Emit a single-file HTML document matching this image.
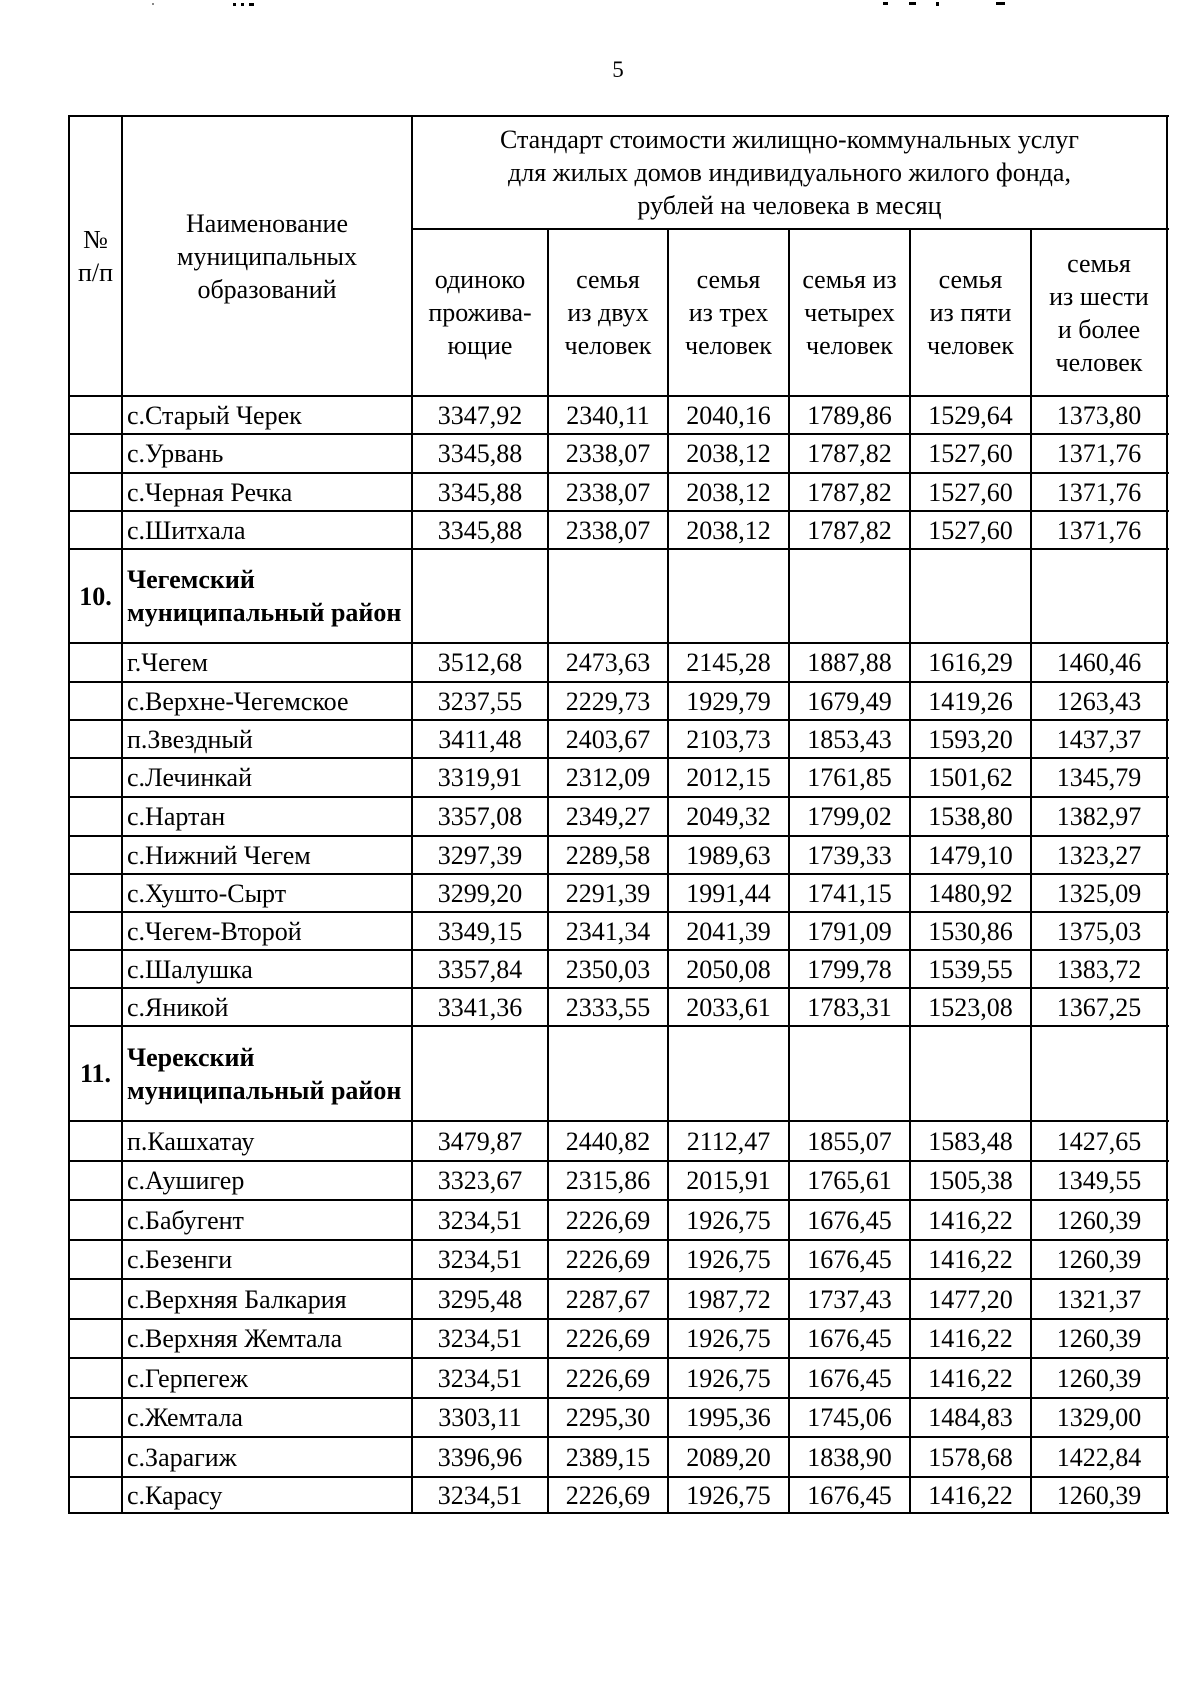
<!DOCTYPE html>
<html lang="ru">
<head>
<meta charset="utf-8">
<style>
html,body{margin:0;padding:0;background:#fff;}
body{width:1200px;height:1697px;position:relative;overflow:hidden;font-family:"Liberation Serif","Times New Roman",serif;color:#000;font-size:26px;}
.h{position:absolute;height:2px;background:#000;}
.v{position:absolute;width:2px;background:#000;}
.r{position:absolute;left:0;width:1200px;}
.c{position:absolute;top:0;bottom:0;display:flex;align-items:center;justify-content:center;text-align:center;line-height:33px;white-space:nowrap;}
.n{justify-content:flex-start;text-align:left;padding-left:5px;}
.b{font-weight:bold;}
.c0{left:69px;width:53px;}
.c1{left:122px;width:290px;}
.c2{left:412px;width:136px;}
.c3{left:548px;width:120px;}
.c4{left:668px;width:121px;}
.c5{left:789px;width:121px;}
.c6{left:910px;width:121px;}
.c7{left:1031px;width:136px;}
.dot{position:absolute;background:#000;height:3px;}
</style>
</head>
<body>
<!-- scan marks -->
<div class="dot" style="left:152px;top:3px;width:2px;height:2px;background:#888;"></div>
<div class="dot" style="left:233px;top:3px;width:3px;"></div>
<div class="dot" style="left:241px;top:3px;width:3px;"></div>
<div class="dot" style="left:249px;top:3px;width:5px;"></div>
<div class="dot" style="left:883px;top:2px;width:5px;"></div>
<div class="dot" style="left:909px;top:2px;width:7px;"></div>
<div class="dot" style="left:936px;top:2px;width:3px;height:4px;"></div>
<div class="dot" style="left:996px;top:2px;width:9px;"></div>

<!-- page number -->
<div style="position:absolute;left:598px;top:58px;width:40px;text-align:center;font-size:23px;line-height:23px;">5</div>

<!-- header -->
<div class="r" style="top:116px;height:280px;">
  <div class="c c0">№<br>п/п</div>
  <div class="c c1">Наименование<br>муниципальных<br>образований</div>
</div>
<div class="r" style="top:116px;height:113px;">
  <div class="c" style="left:412px;width:755px;">Стандарт стоимости жилищно-коммунальных услуг<br>для жилых домов индивидуального жилого фонда,<br>рублей на человека в месяц</div>
</div>
<div class="r" style="top:229px;height:167px;">
  <div class="c c2">одиноко<br>прожива-<br>ющие</div>
  <div class="c c3">семья<br>из двух<br>человек</div>
  <div class="c c4">семья<br>из трех<br>человек</div>
  <div class="c c5">семья из<br>четырех<br>человек</div>
  <div class="c c6">семья<br>из пяти<br>человек</div>
  <div class="c c7">семья<br>из шести<br>и более<br>человек</div>
</div>

<!-- rows -->
<div class="r" style="top:396px;height:38px;"><div class="c c1 n">с.Старый Черек</div><div class="c c2">3347,92</div><div class="c c3">2340,11</div><div class="c c4">2040,16</div><div class="c c5">1789,86</div><div class="c c6">1529,64</div><div class="c c7">1373,80</div></div>
<div class="r" style="top:434px;height:39px;"><div class="c c1 n">с.Урвань</div><div class="c c2">3345,88</div><div class="c c3">2338,07</div><div class="c c4">2038,12</div><div class="c c5">1787,82</div><div class="c c6">1527,60</div><div class="c c7">1371,76</div></div>
<div class="r" style="top:473px;height:38px;"><div class="c c1 n">с.Черная Речка</div><div class="c c2">3345,88</div><div class="c c3">2338,07</div><div class="c c4">2038,12</div><div class="c c5">1787,82</div><div class="c c6">1527,60</div><div class="c c7">1371,76</div></div>
<div class="r" style="top:511px;height:38px;"><div class="c c1 n">с.Шитхала</div><div class="c c2">3345,88</div><div class="c c3">2338,07</div><div class="c c4">2038,12</div><div class="c c5">1787,82</div><div class="c c6">1527,60</div><div class="c c7">1371,76</div></div>
<div class="r" style="top:549px;height:94px;"><div class="c c0 b">10.</div><div class="c c1 n b">Чегемский<br>муниципальный район</div></div>
<div class="r" style="top:643px;height:39px;"><div class="c c1 n">г.Чегем</div><div class="c c2">3512,68</div><div class="c c3">2473,63</div><div class="c c4">2145,28</div><div class="c c5">1887,88</div><div class="c c6">1616,29</div><div class="c c7">1460,46</div></div>
<div class="r" style="top:682px;height:38px;"><div class="c c1 n">с.Верхне-Чегемское</div><div class="c c2">3237,55</div><div class="c c3">2229,73</div><div class="c c4">1929,79</div><div class="c c5">1679,49</div><div class="c c6">1419,26</div><div class="c c7">1263,43</div></div>
<div class="r" style="top:720px;height:38px;"><div class="c c1 n">п.Звездный</div><div class="c c2">3411,48</div><div class="c c3">2403,67</div><div class="c c4">2103,73</div><div class="c c5">1853,43</div><div class="c c6">1593,20</div><div class="c c7">1437,37</div></div>
<div class="r" style="top:758px;height:39px;"><div class="c c1 n">с.Лечинкай</div><div class="c c2">3319,91</div><div class="c c3">2312,09</div><div class="c c4">2012,15</div><div class="c c5">1761,85</div><div class="c c6">1501,62</div><div class="c c7">1345,79</div></div>
<div class="r" style="top:797px;height:39px;"><div class="c c1 n">с.Нартан</div><div class="c c2">3357,08</div><div class="c c3">2349,27</div><div class="c c4">2049,32</div><div class="c c5">1799,02</div><div class="c c6">1538,80</div><div class="c c7">1382,97</div></div>
<div class="r" style="top:836px;height:38px;"><div class="c c1 n">с.Нижний Чегем</div><div class="c c2">3297,39</div><div class="c c3">2289,58</div><div class="c c4">1989,63</div><div class="c c5">1739,33</div><div class="c c6">1479,10</div><div class="c c7">1323,27</div></div>
<div class="r" style="top:874px;height:38px;"><div class="c c1 n">с.Хушто-Сырт</div><div class="c c2">3299,20</div><div class="c c3">2291,39</div><div class="c c4">1991,44</div><div class="c c5">1741,15</div><div class="c c6">1480,92</div><div class="c c7">1325,09</div></div>
<div class="r" style="top:912px;height:38px;"><div class="c c1 n">с.Чегем-Второй</div><div class="c c2">3349,15</div><div class="c c3">2341,34</div><div class="c c4">2041,39</div><div class="c c5">1791,09</div><div class="c c6">1530,86</div><div class="c c7">1375,03</div></div>
<div class="r" style="top:950px;height:38px;"><div class="c c1 n">с.Шалушка</div><div class="c c2">3357,84</div><div class="c c3">2350,03</div><div class="c c4">2050,08</div><div class="c c5">1799,78</div><div class="c c6">1539,55</div><div class="c c7">1383,72</div></div>
<div class="r" style="top:988px;height:38px;"><div class="c c1 n">с.Яникой</div><div class="c c2">3341,36</div><div class="c c3">2333,55</div><div class="c c4">2033,61</div><div class="c c5">1783,31</div><div class="c c6">1523,08</div><div class="c c7">1367,25</div></div>
<div class="r" style="top:1026px;height:95px;"><div class="c c0 b">11.</div><div class="c c1 n b">Черекский<br>муниципальный район</div></div>
<div class="r" style="top:1121px;height:40px;"><div class="c c1 n">п.Кашхатау</div><div class="c c2">3479,87</div><div class="c c3">2440,82</div><div class="c c4">2112,47</div><div class="c c5">1855,07</div><div class="c c6">1583,48</div><div class="c c7">1427,65</div></div>
<div class="r" style="top:1161px;height:39px;"><div class="c c1 n">с.Аушигер</div><div class="c c2">3323,67</div><div class="c c3">2315,86</div><div class="c c4">2015,91</div><div class="c c5">1765,61</div><div class="c c6">1505,38</div><div class="c c7">1349,55</div></div>
<div class="r" style="top:1200px;height:40px;"><div class="c c1 n">с.Бабугент</div><div class="c c2">3234,51</div><div class="c c3">2226,69</div><div class="c c4">1926,75</div><div class="c c5">1676,45</div><div class="c c6">1416,22</div><div class="c c7">1260,39</div></div>
<div class="r" style="top:1240px;height:39px;"><div class="c c1 n">с.Безенги</div><div class="c c2">3234,51</div><div class="c c3">2226,69</div><div class="c c4">1926,75</div><div class="c c5">1676,45</div><div class="c c6">1416,22</div><div class="c c7">1260,39</div></div>
<div class="r" style="top:1279px;height:40px;"><div class="c c1 n">с.Верхняя Балкария</div><div class="c c2">3295,48</div><div class="c c3">2287,67</div><div class="c c4">1987,72</div><div class="c c5">1737,43</div><div class="c c6">1477,20</div><div class="c c7">1321,37</div></div>
<div class="r" style="top:1319px;height:39px;"><div class="c c1 n">с.Верхняя Жемтала</div><div class="c c2">3234,51</div><div class="c c3">2226,69</div><div class="c c4">1926,75</div><div class="c c5">1676,45</div><div class="c c6">1416,22</div><div class="c c7">1260,39</div></div>
<div class="r" style="top:1358px;height:40px;"><div class="c c1 n">с.Герпегеж</div><div class="c c2">3234,51</div><div class="c c3">2226,69</div><div class="c c4">1926,75</div><div class="c c5">1676,45</div><div class="c c6">1416,22</div><div class="c c7">1260,39</div></div>
<div class="r" style="top:1398px;height:39px;"><div class="c c1 n">с.Жемтала</div><div class="c c2">3303,11</div><div class="c c3">2295,30</div><div class="c c4">1995,36</div><div class="c c5">1745,06</div><div class="c c6">1484,83</div><div class="c c7">1329,00</div></div>
<div class="r" style="top:1437px;height:40px;"><div class="c c1 n">с.Зарагиж</div><div class="c c2">3396,96</div><div class="c c3">2389,15</div><div class="c c4">2089,20</div><div class="c c5">1838,90</div><div class="c c6">1578,68</div><div class="c c7">1422,84</div></div>
<div class="r" style="top:1477px;height:36px;"><div class="c c1 n">с.Карасу</div><div class="c c2">3234,51</div><div class="c c3">2226,69</div><div class="c c4">1926,75</div><div class="c c5">1676,45</div><div class="c c6">1416,22</div><div class="c c7">1260,39</div></div>

<!-- horizontal lines -->
<div class="h" style="left:68px;width:1101px;top:115px;"></div>
<div class="h" style="left:411px;width:758px;top:228px;"></div>
<div class="h" style="left:68px;width:1101px;top:395px;"></div>
<div class="h" style="left:68px;width:1101px;top:433px;"></div>
<div class="h" style="left:68px;width:1101px;top:472px;"></div>
<div class="h" style="left:68px;width:1101px;top:510px;"></div>
<div class="h" style="left:68px;width:1101px;top:548px;"></div>
<div class="h" style="left:68px;width:1101px;top:642px;"></div>
<div class="h" style="left:68px;width:1101px;top:681px;"></div>
<div class="h" style="left:68px;width:1101px;top:719px;"></div>
<div class="h" style="left:68px;width:1101px;top:757px;"></div>
<div class="h" style="left:68px;width:1101px;top:796px;"></div>
<div class="h" style="left:68px;width:1101px;top:835px;"></div>
<div class="h" style="left:68px;width:1101px;top:873px;"></div>
<div class="h" style="left:68px;width:1101px;top:911px;"></div>
<div class="h" style="left:68px;width:1101px;top:949px;"></div>
<div class="h" style="left:68px;width:1101px;top:987px;"></div>
<div class="h" style="left:68px;width:1101px;top:1025px;"></div>
<div class="h" style="left:68px;width:1101px;top:1120px;"></div>
<div class="h" style="left:68px;width:1101px;top:1160px;"></div>
<div class="h" style="left:68px;width:1101px;top:1199px;"></div>
<div class="h" style="left:68px;width:1101px;top:1239px;"></div>
<div class="h" style="left:68px;width:1101px;top:1278px;"></div>
<div class="h" style="left:68px;width:1101px;top:1318px;"></div>
<div class="h" style="left:68px;width:1101px;top:1357px;"></div>
<div class="h" style="left:68px;width:1101px;top:1397px;"></div>
<div class="h" style="left:68px;width:1101px;top:1436px;"></div>
<div class="h" style="left:68px;width:1101px;top:1476px;"></div>
<div class="h" style="left:68px;width:1101px;top:1512px;"></div>

<!-- vertical lines -->
<div class="v" style="left:68px;top:115px;height:1399px;"></div>
<div class="v" style="left:121px;top:115px;height:1399px;"></div>
<div class="v" style="left:411px;top:115px;height:1399px;"></div>
<div class="v" style="left:547px;top:228px;height:1286px;"></div>
<div class="v" style="left:667px;top:228px;height:1286px;"></div>
<div class="v" style="left:788px;top:228px;height:1286px;"></div>
<div class="v" style="left:909px;top:228px;height:1286px;"></div>
<div class="v" style="left:1030px;top:228px;height:1286px;"></div>
<div class="v" style="left:1166px;top:115px;height:1399px;"></div>
</body>
</html>
